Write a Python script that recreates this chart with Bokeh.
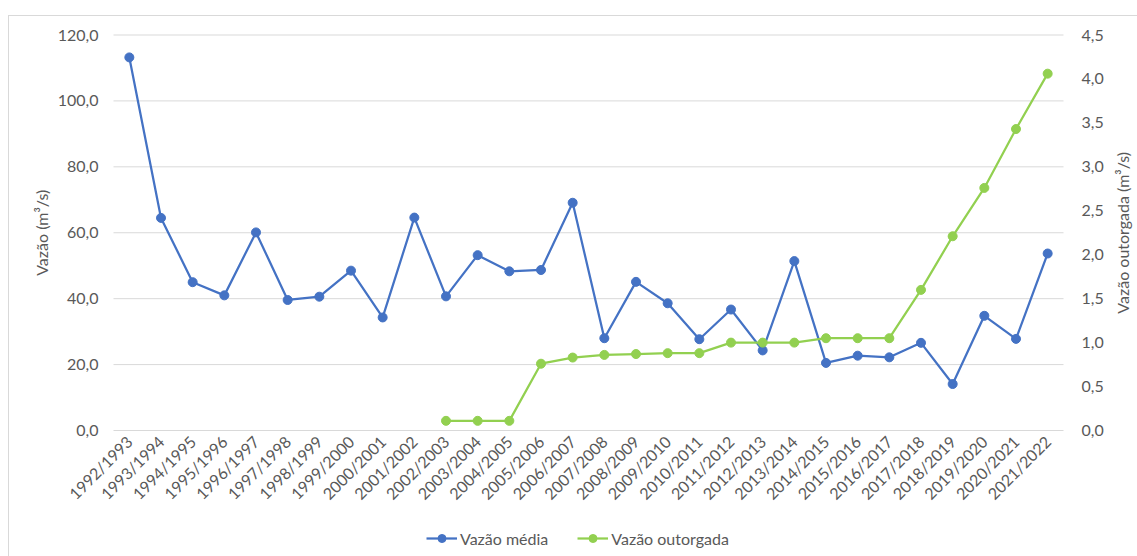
from bokeh.plotting import figure
from bokeh.models import (ColumnDataSource, Range1d, LinearAxis, Label,
                          CustomJSTickFormatter, FixedTicker, Legend, LegendItem)
from bokeh.embed import file_html
from bokeh.resources import INLINE
import math

# Hydrological years
anos = [
    "1992/1993", "1993/1994", "1994/1995", "1995/1996", "1996/1997",
    "1997/1998", "1998/1999", "1999/2000", "2000/2001", "2001/2002",
    "2002/2003", "2003/2004", "2004/2005", "2005/2006", "2006/2007",
    "2007/2008", "2008/2009", "2009/2010", "2010/2011", "2011/2012",
    "2012/2013", "2013/2014", "2014/2015", "2015/2016", "2016/2017",
    "2017/2018", "2018/2019", "2019/2020", "2020/2021", "2021/2022",
]

# Mean flow (m³/s), left axis
vazao_media = [
    113.2, 64.5, 45.0, 41.0, 60.1,
    39.6, 40.6, 48.5, 34.3, 64.6,
    40.7, 53.2, 48.3, 48.7, 69.1,
    28.0, 45.1, 38.6, 27.7, 36.7,
    24.3, 51.4, 20.5, 22.7, 22.2,
    26.6, 14.1, 34.8, 27.8, 53.7,
]

# Granted flow (m³/s), right axis; no grants before 2002/2003
vazao_outorgada = [
    None, None, None, None, None,
    None, None, None, None, None,
    0.11, 0.11, 0.11, 0.76, 0.83,
    0.86, 0.87, 0.88, 0.88, 1.00,
    1.00, 1.00, 1.05, 1.05, 1.05,
    1.60, 2.21, 2.76, 3.43, 4.06,
]

left_ticks = [0, 20, 40, 60, 80, 100, 120]
right_ticks = [0, 0.5, 1.0, 1.5, 2.0, 2.5, 3.0, 3.5, 4.0, 4.5]
LEFT_MAX = 120
RIGHT_MAX = 4.5

AZUL = "#4472C4"
VERDE = "#92D050"
TEXTO = "#595959"
GRADE = "#D9D9D9"
FONTE = "Lato"
TAM = "16px"

# Canvas layout (pixels). The whole canvas is the plotting frame so that the
# rotated year labels and the legend are never clipped; the plot area proper
# spans PLOT_LEFT..PLOT_RIGHT and PLOT_TOP..PLOT_BOTTOM inside it.
W, H = 1129, 541
PLOT_LEFT, PLOT_RIGHT = 104, 1054
PLOT_TOP, PLOT_BOTTOM = 18.5, 414
n = len(anos)
cat_px = (PLOT_RIGHT - PLOT_LEFT) / n
val_px = (PLOT_BOTTOM - PLOT_TOP) / LEFT_MAX

x_start = -0.5 - PLOT_LEFT / cat_px
x_end = n - 0.5 + (W - PLOT_RIGHT) / cat_px
y_start = -(H - PLOT_BOTTOM) / val_px
y_end = LEFT_MAX + PLOT_TOP / val_px
k = RIGHT_MAX / LEFT_MAX

idx = list(range(n))
media_src = ColumnDataSource(data=dict(x=idx, v=vazao_media))
out_x = [i for i, v in zip(idx, vazao_outorgada) if v is not None]
out_v = [v for v in vazao_outorgada if v is not None]
out_src = ColumnDataSource(data=dict(x=out_x, v=out_v))

p = figure(
    x_range=Range1d(x_start, x_end),
    y_range=Range1d(y_start, y_end),
    frame_width=W, frame_height=H,
    min_border=0,
    output_backend="svg", toolbar_location=None,
    outline_line_color=None,
    margin=(15, 0, 0, 8),
    x_axis_type=None, y_axis_type=None,
)
p.styles = {"border-left": "1px solid #D9D9D9", "border-top": "1px solid #D9D9D9"}
p.extra_y_ranges = {"outorgada": Range1d(y_start * k, y_end * k)}
p.xgrid.grid_line_color = None
p.ygrid.grid_line_color = None

fmt = CustomJSTickFormatter(code="return tick.toFixed(1).replace('.', ',');")

# Horizontal gridlines across the category span
p.segment(x0=[-0.5] * len(left_ticks), x1=[n - 0.5] * len(left_ticks),
          y0=left_ticks, y1=left_ticks, line_color=GRADE, line_width=1,
          level="underlay")

# Left value axis at the start of the category span
ya = LinearAxis(ticker=FixedTicker(ticks=left_ticks), formatter=fmt,
                fixed_location=-0.5)
p.add_layout(ya, "left")

# Right value axis at the end of the category span
yr = LinearAxis(y_range_name="outorgada", ticker=FixedTicker(ticks=right_ticks),
                formatter=fmt, fixed_location=n - 0.5)
p.add_layout(yr, "right")

for ax in [ya, yr]:
    ax.axis_line_color = None
    ax.major_tick_line_color = None
    ax.minor_tick_line_color = None
    ax.major_tick_out = 0
    ax.major_tick_in = 0
    ax.major_label_text_font = FONTE
    ax.major_label_text_font_size = TAM
    ax.major_label_text_color = TEXTO
ya.major_label_standoff = 15
yr.major_label_standoff = 18

# Year axis on the zero line
xa = LinearAxis(ticker=FixedTicker(ticks=idx),
                major_label_overrides={i: a for i, a in zip(idx, anos)},
                fixed_location=0)
xa.axis_line_color = None
xa.major_tick_line_color = None
xa.minor_tick_line_color = None
xa.major_tick_out = 0
xa.major_tick_in = 0
xa.major_label_orientation = math.pi / 4
xa.major_label_standoff = 8
xa.major_label_text_font = FONTE
xa.major_label_text_font_size = TAM
xa.major_label_text_color = TEXTO
p.add_layout(xa, "below")

# Axis titles, centred on the value span
mid_y = H - (PLOT_TOP + PLOT_BOTTOM) / 2
for sx, txt in [(32, "Vazão (m³/s)"), (1113, "Vazão outorgada (m³/s)")]:
    p.add_layout(Label(x=sx, y=mid_y, x_units="screen", y_units="screen",
                       text=txt, angle=math.pi / 2, text_align="center",
                       text_baseline="middle", text_font=FONTE,
                       text_font_size=TAM, text_color=TEXTO))

l1 = p.line("x", "v", source=media_src, line_color=AZUL, line_width=2.25,
            line_join="round")
s1 = p.scatter("x", "v", source=media_src, size=9, fill_color=AZUL, line_color=AZUL)
l2 = p.line("x", "v", source=out_src, line_color=VERDE, line_width=2.25,
            line_join="round", y_range_name="outorgada")
s2 = p.scatter("x", "v", source=out_src, size=9, fill_color=VERDE, line_color=VERDE,
               y_range_name="outorgada")

legend = Legend(
    items=[LegendItem(label="Vazão média", renderers=[l1, s1]),
           LegendItem(label="Vazão outorgada", renderers=[l2, s2])],
    orientation="horizontal", location=(417, 9),
    label_text_font=FONTE, label_text_font_size=TAM, label_text_color=TEXTO,
    border_line_color=None, background_fill_alpha=0,
    glyph_width=31, glyph_height=20, label_height=20,
    label_standoff=3, spacing=29, padding=0, margin=0,
)
p.add_layout(legend, "center")

open("out.html", "w").write(file_html(p, INLINE))
